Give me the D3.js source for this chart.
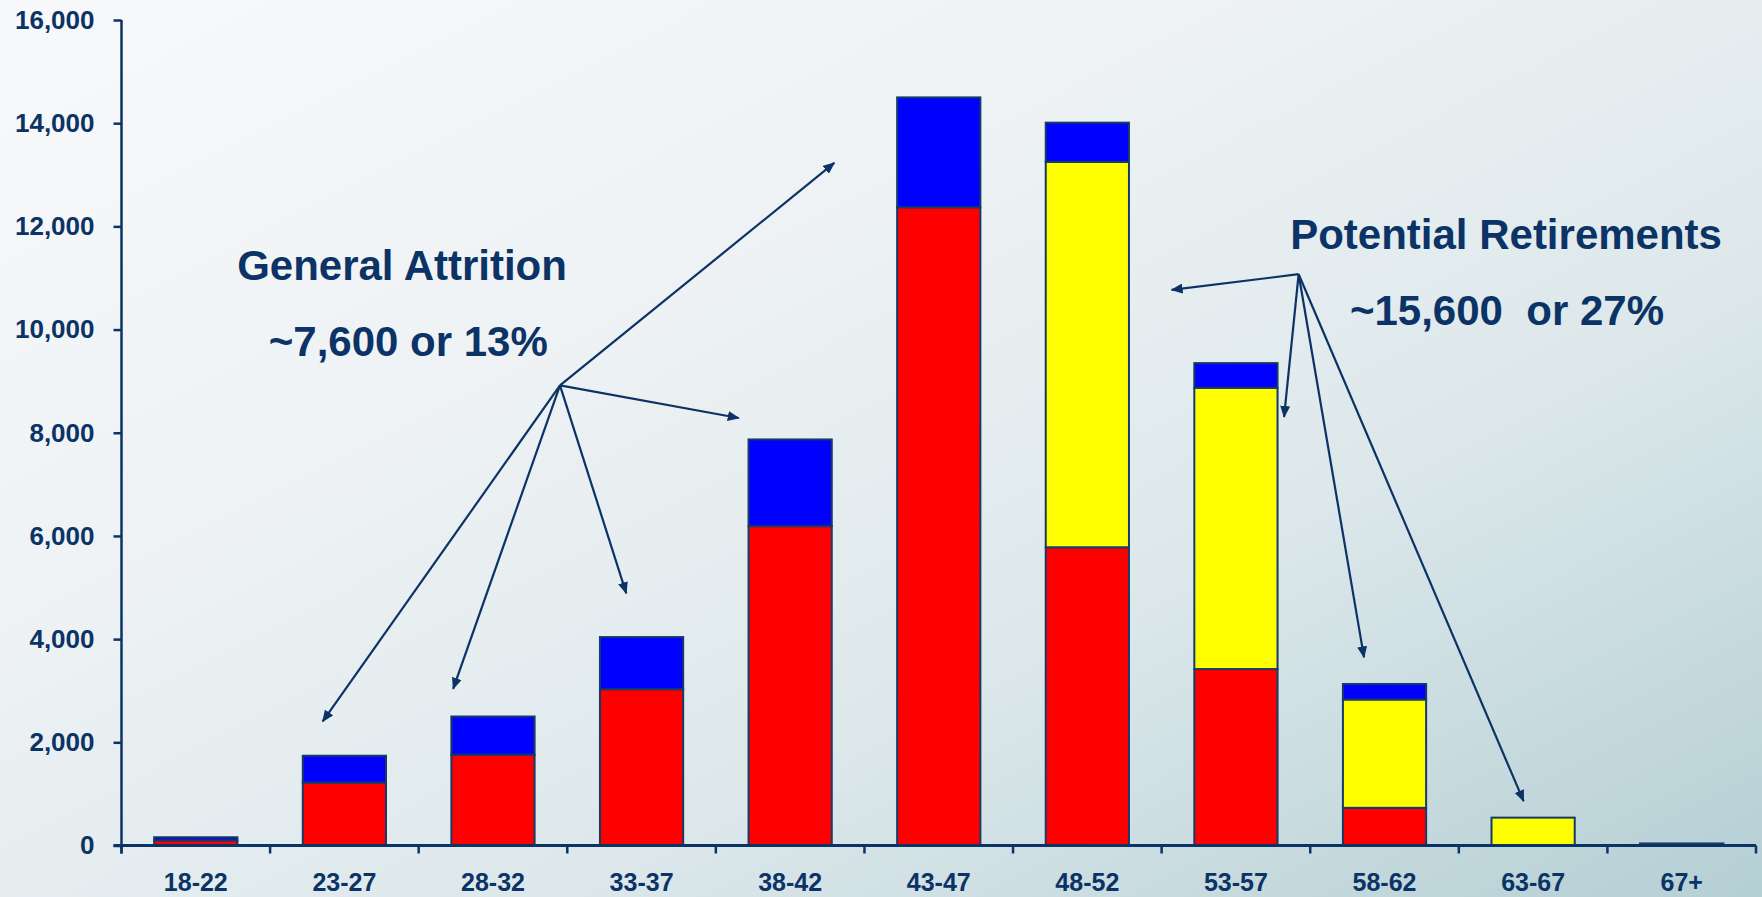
<!DOCTYPE html>
<html><head><meta charset="utf-8">
<script src="https://cdn.jsdelivr.net/npm/d3@7"></script>
<style>
html,body{margin:0;padding:0;overflow:hidden;}
svg{display:block;font-family:"Liberation Sans",Arial,sans-serif;font-weight:bold;}
text{white-space:pre;}
</style></head>
<body><svg id="chart" width="1762" height="897"></svg>
<script>
// ---- data ----
const categories = ["18-22","23-27","28-32","33-37","38-42","43-47","48-52","53-57","58-62","63-67","67+"];
const red    = [100, 1220, 1760, 3030, 6190, 12370, 5780, 3420, 730,   0,  0];
const yellow = [  0,    0,    0,    0,    0,     0, 7470, 5450, 2100, 540, 20];
const blue   = [ 60,  520,  740, 1010, 1680,  2130,  760,  480,  300,   0, 20];
const yTicks = [0, 2000, 4000, 6000, 8000, 10000, 12000, 14000, 16000];
const seriesNames = ["red", "yellow", "blue"];
const seriesColors = ["#ff0000", "#ffff00", "#0000ff"];
// annotation arrows in data space: [category position (band units), value]
const attritionHub = [2.951, 8918];
const attritionTargets = [[4.797, 13230], [4.154, 8286], [3.397, 4888], [2.232, 3037], [1.354, 2405]];
const retireHub = [7.922, 11073];
const retireTargets = [[7.067, 10769], [7.824, 8307], [8.362, 3646], [9.436, 859]];
const labels = [
  {text: "General Attrition", pos: [1.888, 10960]},
  {text: "~7,600 or 13%", pos: [1.930, 9480]},
  {text: "Potential Retirements", pos: [9.318, 11560]},
  {text: "~15,600  or 27%", pos: [9.324, 10080]}
];

// ---- layout ----
const W = 1762, H = 897;
const x0 = 121.5, x1 = 1756, yTop = 20, yBot = 845.5;
const navy = "#0b3366";

const svg = d3.select("#chart");
const defs = svg.append("defs");
const bg = defs.append("linearGradient").attr("id","bg")
  .attr("x1","0").attr("y1","0").attr("x2","1").attr("y2","1");
bg.append("stop").attr("offset","0").attr("stop-color","#f8f9fa");
bg.append("stop").attr("offset","0.35").attr("stop-color","#eef2f4");
bg.append("stop").attr("offset","0.65").attr("stop-color","#dde8eb");
bg.append("stop").attr("offset","1").attr("stop-color","#b4cfd4");
svg.append("rect").attr("width",W).attr("height",H).attr("fill","url(#bg)");

defs.append("marker").attr("id","arrow").attr("viewBox","0 0 12 10")
  .attr("refX",11).attr("refY",5).attr("markerWidth",12).attr("markerHeight",10)
  .attr("markerUnits","userSpaceOnUse").attr("orient","auto")
  .append("path").attr("d","M0,0 L12,5 L0,10 Z").attr("fill",navy);

const x = d3.scaleBand().domain(categories).range([x0, x1]).paddingInner(0.44).paddingOuter(0.22);
const xPos = d3.scaleLinear().domain([0, categories.length]).range([x0, x1]);
const y = d3.scaleLinear().domain([0, 16000]).range([yBot, yTop]);

// stacked bars
const rows = categories.map((c, i) => ({cat: c, red: red[i], yellow: yellow[i], blue: blue[i]}));
const stack = d3.stack().keys(seriesNames)(rows);
svg.append("g").selectAll("g").data(stack).join("g")
  .attr("fill", (d, i) => seriesColors[i])
  .selectAll("rect").data(d => d.filter(s => s[1] - s[0] > 0)).join("rect")
  .attr("x", d => x(d.data.cat))
  .attr("width", x.bandwidth())
  .attr("y", d => y(d[1]))
  .attr("height", d => y(d[0]) - y(d[1]))
  .attr("stroke", "#163a66").attr("stroke-width", 2);

// y axis
const yAxis = svg.append("g").attr("transform", `translate(${x0},0)`)
  .call(d3.axisLeft(y).tickValues(yTicks).tickFormat(d3.format(",")).tickSize(8).tickPadding(19));
yAxis.select(".domain").remove();
yAxis.selectAll("line").attr("stroke", navy).attr("stroke-width", 2.5);
yAxis.selectAll("text").attr("fill", navy).attr("font-size", 26).attr("font-weight", "bold")
  .attr("font-family", "'Liberation Sans',Arial,sans-serif");
svg.append("line").attr("x1", x0).attr("x2", x0).attr("y1", yTop).attr("y2", yBot + 8)
  .attr("stroke", navy).attr("stroke-width", 2.5);

// x axis
svg.append("line").attr("x1", x0 - 8).attr("x2", x1).attr("y1", yBot).attr("y2", yBot)
  .attr("stroke", navy).attr("stroke-width", 3);
svg.append("g").selectAll("line").data(d3.range(categories.length + 1)).join("line")
  .attr("x1", d => xPos(d)).attr("x2", d => xPos(d))
  .attr("y1", yBot).attr("y2", yBot + 8)
  .attr("stroke", navy).attr("stroke-width", 2.5);
const xAxis = svg.append("g").attr("transform", `translate(0,${yBot})`)
  .call(d3.axisBottom(x).tickSize(0).tickPadding(28));
xAxis.select(".domain").remove();
xAxis.selectAll("text").attr("fill", navy).attr("font-size", 25).attr("font-weight", "bold")
  .attr("font-family", "'Liberation Sans',Arial,sans-serif");

// annotations
const arrows = [];
attritionTargets.forEach(t => arrows.push([attritionHub, t]));
retireTargets.forEach(t => arrows.push([retireHub, t]));
svg.append("g").selectAll("line").data(arrows).join("line")
  .attr("x1", d => xPos(d[0][0])).attr("y1", d => y(d[0][1]))
  .attr("x2", d => xPos(d[1][0])).attr("y2", d => y(d[1][1]))
  .attr("stroke", navy).attr("stroke-width", 2.2).attr("marker-end", "url(#arrow)");

svg.append("g").selectAll("text").data(labels).join("text")
  .attr("x", d => xPos(d.pos[0])).attr("y", d => y(d.pos[1]))
  .attr("text-anchor", "middle").attr("fill", navy)
  .attr("font-size", 42).attr("font-weight", "bold")
  .attr("xml:space", "preserve")
  .text(d => d.text);
</script></body></html>
